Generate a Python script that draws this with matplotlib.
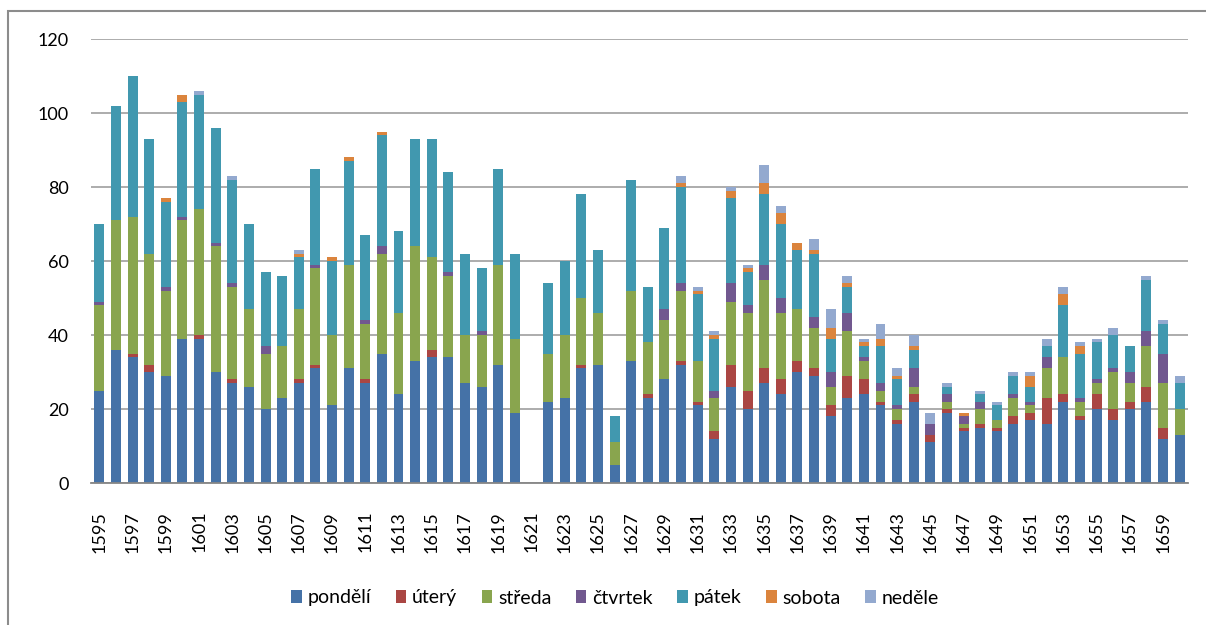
import matplotlib
matplotlib.use("Agg")
import matplotlib.pyplot as plt
import numpy as np
from matplotlib.patches import Rectangle

years = list(range(1595, 1661))
series_names = ["pondělí", "úterý", "středa", "čtvrtek", "pátek", "sobota", "neděle"]
colors = ["#4572A7", "#AA4643", "#89A54E", "#71588F", "#4198AF", "#DB843D", "#93A9CF"]

pondeli = [25, 36, 34, 30, 29, 39, 39, 30, 27, 26,
           20, 23, 27, 31, 21, 31, 27, 35, 24, 33,
           34, 34, 27, 26, 32, 19, 0, 22, 23, 31,
           32, 5, 33, 23, 28, 32, 21, 12, 26, 20,
           27, 24, 30, 29, 18, 23, 24, 21, 16, 22,
           11, 19, 14, 15, 14, 16, 17, 16, 22, 17,
           20, 17, 20, 22, 12, 13]
utery = [0, 0, 1, 2, 0, 0, 1, 0, 1, 0,
         0, 0, 1, 1, 0, 0, 1, 0, 0, 0,
         2, 0, 0, 0, 0, 0, 0, 0, 0, 1,
         0, 0, 0, 1, 0, 1, 1, 2, 6, 5,
         4, 4, 3, 2, 3, 6, 4, 1, 1, 2,
         2, 1, 1, 1, 1, 2, 2, 7, 2, 1,
         4, 3, 2, 4, 3, 0]
streda = [23, 35, 37, 30, 23, 32, 34, 34, 25, 21,
          15, 14, 19, 26, 19, 28, 15, 27, 22, 31,
          25, 22, 13, 14, 27, 20, 0, 13, 17, 18,
          14, 6, 19, 14, 16, 19, 11, 9, 17, 21,
          24, 18, 14, 11, 5, 12, 5, 3, 3, 2,
          0, 2, 1, 4, 2, 5, 2, 8, 10, 4,
          3, 10, 5, 11, 12, 7]
ctvrtek = [1, 0, 0, 0, 1, 1, 0, 1, 1, 0,
           2, 0, 0, 1, 0, 0, 1, 2, 0, 0,
           0, 1, 0, 1, 0, 0, 0, 0, 0, 0,
           0, 0, 0, 0, 3, 2, 0, 2, 5, 2,
           4, 4, 0, 3, 4, 5, 1, 2, 1, 5,
           3, 2, 2, 2, 0, 1, 1, 3, 0, 1,
           1, 1, 3, 4, 8, 0]
patek = [21, 31, 38, 31, 23, 31, 31, 31, 28, 23,
         20, 19, 14, 26, 20, 28, 23, 30, 22, 29,
         32, 27, 22, 17, 26, 23, 0, 19, 20, 28,
         17, 7, 30, 15, 22, 26, 18, 14, 23, 9,
         19, 20, 16, 17, 9, 7, 3, 10, 7, 5,
         0, 2, 0, 2, 4, 5, 4, 3, 14, 12,
         10, 9, 7, 14, 8, 7]
sobota = [0, 0, 0, 0, 1, 2, 0, 0, 0, 0,
          0, 0, 1, 0, 1, 1, 0, 1, 0, 0,
          0, 0, 0, 0, 0, 0, 0, 0, 0, 0,
          0, 0, 0, 0, 0, 1, 1, 1, 2, 1,
          3, 3, 2, 1, 3, 1, 1, 2, 1, 1,
          0, 0, 1, 0, 0, 0, 3, 0, 3, 2,
          0, 0, 0, 0, 0, 0]
nedele = [0, 0, 0, 0, 0, 0, 1, 0, 1, 0,
          0, 0, 1, 0, 0, 0, 0, 0, 0, 0,
          0, 0, 0, 0, 0, 0, 0, 0, 0, 0,
          0, 0, 0, 0, 0, 2, 1, 1, 1, 1,
          5, 2, 0, 3, 5, 2, 1, 4, 2, 3,
          3, 1, 0, 1, 1, 1, 1, 2, 2, 1,
          1, 2, 0, 1, 1, 2]

yticks = [0, 20, 40, 60, 80, 100, 120]

plt.rcParams['font.family'] = ['Lato', 'DejaVu Sans']

W, H = 1206, 625
fig = plt.figure(figsize=(W / 100, H / 100), dpi=100)
fig.patches.append(Rectangle((8 / W, -0.1), 1.2, 1 - 11 / H + 0.1, transform=fig.transFigure,
                             fill=False, edgecolor="#8c8c8c", linewidth=1.5))

ax = fig.add_axes([91 / W, 1 - 483 / H, (1188 - 91) / W, (483 - 39) / H])

x = np.arange(len(years))
data = [pondeli, utery, streda, ctvrtek, patek, sobota, nedele]
bottom = np.zeros(len(years))
for name, vals, c in zip(series_names, data, colors):
    v = np.array(vals, dtype=float)
    ax.bar(x, v, width=0.6, bottom=bottom, color=c, label=name, zorder=3,
           edgecolor="none")
    bottom += v

ax.set_xlim(-0.5, len(years) - 0.5)
ax.set_ylim(0, 120)
ax.set_yticks(yticks)
ax.set_yticklabels([str(t) for t in yticks])
ax.set_xticks(x[::2])
ax.set_xticklabels([str(y) for y in years[::2]], rotation=90)
ax.tick_params(axis='both', length=0, labelsize=13, colors="#000000")
ax.tick_params(axis='x', pad=20)
ax.tick_params(axis='y', pad=16)
ax.grid(axis='y', color="#a6a6a6", linewidth=1.3, zorder=0)
for s in ["left", "right", "top"]:
    ax.spines[s].set_visible(False)
ax.spines["bottom"].set_color("#868686")
ax.spines["bottom"].set_linewidth(1.3)
ax.spines["bottom"].set_zorder(4)

handles, labels = ax.get_legend_handles_labels()
fig.legend(handles, labels, loc="center", bbox_to_anchor=(615 / W, 1 - 598 / H),
           ncol=7, frameon=False, fontsize=14, handlelength=0.55, handleheight=0.6,
           handletextpad=0.3, columnspacing=1.25)

fig.savefig("out.png", dpi=100)
